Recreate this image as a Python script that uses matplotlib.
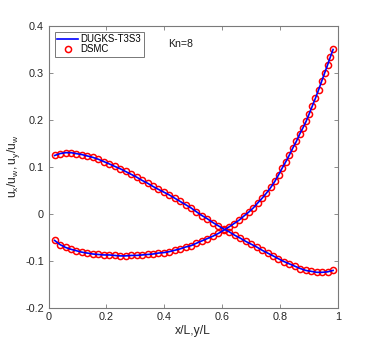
import matplotlib
matplotlib.use("Agg")
import matplotlib.pyplot as plt
from matplotlib.lines import Line2D

plt.rcParams['font.family'] = ['Liberation Sans', 'DejaVu Sans']
plt.rcParams['mathtext.fontset'] = 'custom'
plt.rcParams['mathtext.rm'] = 'Liberation Sans'
plt.rcParams['mathtext.it'] = 'Liberation Sans:italic'
plt.rcParams['axes.unicode_minus'] = False

# ---- data ----
# u_x / u_w profile (positions and values)
pos_ux = [0.021, 0.040, 0.059, 0.078, 0.096, 0.115, 0.134, 0.153, 0.172, 0.191,
          0.210, 0.228, 0.247, 0.266, 0.285, 0.304, 0.323, 0.342, 0.361, 0.379,
          0.398, 0.417, 0.436, 0.455, 0.474, 0.493, 0.511, 0.530, 0.549, 0.568,
          0.587, 0.606, 0.625, 0.643, 0.662, 0.681, 0.700, 0.719, 0.738, 0.757,
          0.776, 0.794, 0.813, 0.832, 0.851, 0.870, 0.889, 0.908, 0.927, 0.945,
          0.964, 0.983]
ux = [0.124, 0.128, 0.130, 0.130, 0.128, 0.126, 0.123, 0.120, 0.116, 0.111,
      0.106, 0.101, 0.096, 0.090, 0.084, 0.078, 0.071, 0.065, 0.058, 0.052,
      0.046, 0.040, 0.033, 0.026, 0.019, 0.012, 0.004, -0.004, -0.011, -0.019,
      -0.026, -0.033, -0.039, -0.046, -0.052, -0.059, -0.065, -0.071, -0.078, -0.084,
      -0.090, -0.096, -0.102, -0.107, -0.112, -0.117, -0.121, -0.123, -0.125, -0.125,
      -0.124, -0.121]

# u_y / u_w profile (positions and values)
pos_uy = [0.021, 0.040, 0.059, 0.078, 0.096, 0.115, 0.134, 0.153, 0.172, 0.191,
          0.210, 0.228, 0.247, 0.266, 0.285, 0.304, 0.323, 0.342, 0.361, 0.379,
          0.398, 0.417, 0.436, 0.455, 0.474, 0.493, 0.511, 0.530, 0.549, 0.568,
          0.587, 0.606, 0.624, 0.641, 0.658, 0.675, 0.691, 0.707, 0.723, 0.738,
          0.753, 0.768, 0.782, 0.795, 0.808, 0.820, 0.832, 0.844, 0.856, 0.868,
          0.879, 0.890, 0.900, 0.911, 0.922, 0.933, 0.944, 0.954, 0.964, 0.973,
          0.983]
uy = [-0.057, -0.066, -0.072, -0.076, -0.079, -0.082, -0.084, -0.086, -0.087, -0.088,
      -0.088, -0.089, -0.090, -0.090, -0.089, -0.089, -0.088, -0.087, -0.086, -0.084,
      -0.083, -0.081, -0.078, -0.075, -0.071, -0.068, -0.063, -0.058, -0.053, -0.048,
      -0.042, -0.035, -0.028, -0.021, -0.014, -0.005, 0.003, 0.012, 0.023, 0.033,
      0.044, 0.056, 0.069, 0.083, 0.098, 0.111, 0.125, 0.140, 0.154, 0.170,
      0.183, 0.197, 0.212, 0.229, 0.246, 0.264, 0.283, 0.300, 0.317, 0.333,
      0.350]

xticks = [0, 0.2, 0.4, 0.6, 0.8, 1]
xticklabels = ['0', '0.2', '0.4', '0.6', '0.8', '1']
yticks = [-0.2, -0.1, 0, 0.1, 0.2, 0.3, 0.4]
yticklabels = ['-0.2', '-0.1', '0', '0.1', '0.2', '0.3', '0.4']

series_labels = ['DUGKS-T3S3', 'DSMC']
annotation = 'Kn=8'

# ---- figure ----
fig = plt.figure(figsize=(3.74, 3.46), dpi=100)
ax = fig.add_axes([48.5 / 374, 38.5 / 346, 289.5 / 374, 281.5 / 346])

marker_kw = dict(linestyle='none', marker='o', markersize=4.4,
                 markerfacecolor='none', markeredgecolor='red',
                 markeredgewidth=1.1)
for p, vals in ((pos_ux, ux), (pos_uy, uy)):
    ax.plot(p, vals, zorder=2, **marker_kw)
for p, vals in ((pos_ux, ux), (pos_uy, uy)):
    ax.plot(p, vals, color='blue', linewidth=1.2, zorder=3)

ax.set_xlim(0, 1)
ax.set_ylim(-0.2, 0.4)
ax.set_xticks(xticks)
ax.set_xticklabels(xticklabels)
ax.set_yticks(yticks)
ax.set_yticklabels(yticklabels)

edge = '#7a7a7a'
for s in ax.spines.values():
    s.set_color(edge)
    s.set_linewidth(0.8)
ax.tick_params(direction='in', length=3, width=0.6, colors=edge,
               labelcolor='#262626', labelsize=7.8, top=True, right=True)
ax.tick_params(axis='y', pad=3.2)
ax.tick_params(axis='x', pad=3.6)

ax.set_xlabel('x/L,y/L', fontsize=8.7, color='#262626', labelpad=2)
ax.set_ylabel(r'$\mathrm{u_x/u_w,u_y/u_w}$', fontsize=8.7, color='#262626',
              labelpad=2.5)

ax.text(0.413, 0.362, annotation, fontsize=7.6, color='#1a1a1a',
        ha='left', va='center')

h1 = Line2D([], [], color='blue', linewidth=1.2)
h2 = Line2D([], [], **marker_kw)
leg = ax.legend([h1, h2], series_labels, loc='upper left',
                bbox_to_anchor=(6.5 / 289.5, 1 - 5.5 / 281.5),
                fontsize=6.9, frameon=True, fancybox=False, borderpad=0.25,
                handlelength=2.2, handletextpad=0.2, labelspacing=0.05,
                borderaxespad=0)
leg.get_frame().set_edgecolor('#555555')
leg.get_frame().set_linewidth(0.7)

fig.savefig('out.png', dpi=100)
